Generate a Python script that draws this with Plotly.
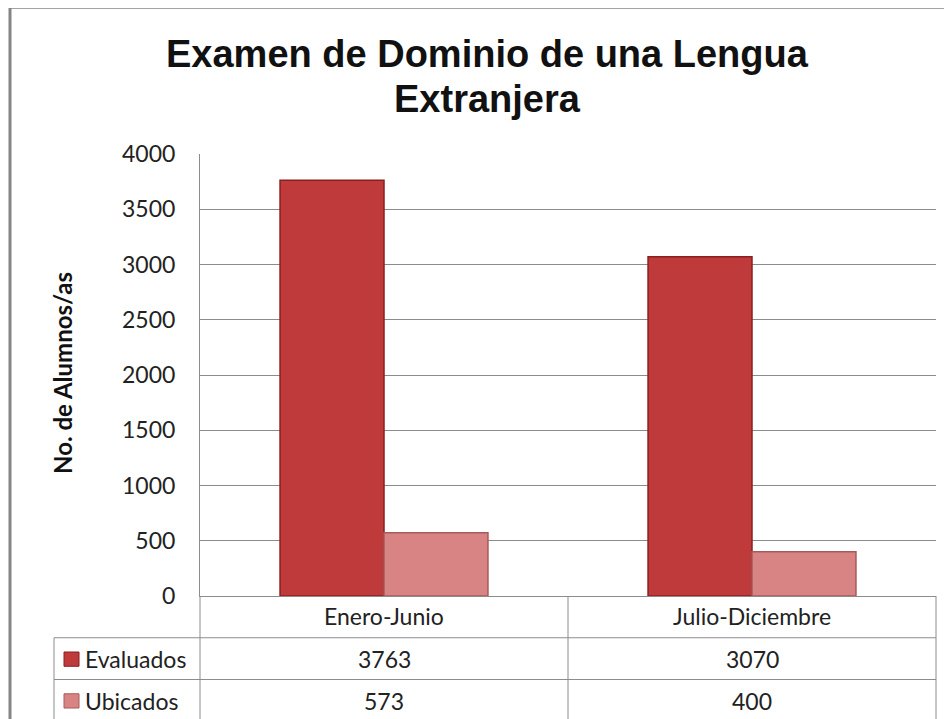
import plotly.graph_objects as go

# Examen de Dominio de una Lengua Extranjera - alumnos evaluados / ubicados
periodos = ["Enero-Junio", "Julio-Diciembre"]
evaluados = [3763, 3070]
ubicados = [573, 400]
series = ["Evaluados", "Ubicados"]
y_ticks = [0, 500, 1000, 1500, 2000, 2500, 3000, 3500, 4000]
titulo = ["Examen de Dominio de una Lengua", "Extranjera"]

col_eval = "#bf3a3a"
col_eval_line = "#8a1f1f"
col_ubic = "#d88484"
col_ubic_line = "#a85a5a"
grid = "#8c8c8c"
txt_font = "Lato"
txt_col = "#222"

fig = go.Figure()
fig.add_trace(go.Bar(name=series[0], x=periodos, y=evaluados,
                     marker=dict(color=col_eval, line=dict(color=col_eval_line, width=1.5))))
fig.add_trace(go.Bar(name=series[1], x=periodos, y=ubicados,
                     marker=dict(color=col_ubic, line=dict(color=col_ubic_line, width=1.5))))

# screen pixel -> paper helpers (plot area 200..936 x 154..588)
def px(v):
    return (v - 200) / 736.0

def py(v):
    return (588 - v) / 434.0

shapes = []
# outer chart border: only the left and top edges show in the reference
shapes.append(dict(type="path", xref="paper", yref="paper",
                   path="M {:.5f},{:.5f} L {:.5f},{:.5f} L {:.5f},{:.5f}".format(
                       px(10), py(730), px(10), py(10), px(960), py(10)),
                   line=dict(color="#858585", width=3)))

def hline(y, x0, x1):
    shapes.append(dict(type="line", xref="paper", yref="paper",
                       x0=px(x0), x1=px(x1), y0=py(y), y1=py(y),
                       line=dict(color=grid, width=1)))

def vline(x, y0, y1):
    shapes.append(dict(type="line", xref="paper", yref="paper",
                       x0=px(x), x1=px(x), y0=py(y0), y1=py(y1),
                       line=dict(color=grid, width=1)))

# data table grid
hline(629, 54, 936)
hline(670, 54, 936)
hline(711, 54, 936)
vline(54, 629, 711)
vline(200, 588, 711)
vline(568, 588, 711)
vline(936, 588, 711)

# legend keys in table
key_cols = [(col_eval, col_eval_line), (col_ubic, col_ubic_line)]
row_y = [650, 691]
for (c, lc), yy in zip(key_cols, row_y):
    shapes.append(dict(type="rect", xref="paper", yref="paper",
                       x0=px(64), x1=px(79), y0=py(yy - 7), y1=py(yy + 7),
                       fillcolor=c, line=dict(color=lc, width=1)))

tfont = dict(family=txt_font, size=23, color=txt_col)
annotations = []
for p in periodos:
    annotations.append(dict(x=p, xref="x", y=py(608), yref="paper", text=p,
                            xanchor="center", yanchor="middle", showarrow=False, font=tfont))
for name, vals, yy in zip(series, [evaluados, ubicados], row_y):
    annotations.append(dict(x=px(83), xref="paper", y=py(yy), yref="paper", text=name,
                            xanchor="left", yanchor="middle", showarrow=False, font=tfont))
    for p, v in zip(periodos, vals):
        annotations.append(dict(x=p, xref="x", y=py(yy), yref="paper", text=str(v),
                                xanchor="center", yanchor="middle", showarrow=False, font=tfont))

# y axis title
annotations.append(dict(x=px(63), xref="paper", y=py(369), yref="paper",
                        text="<b>No. de Alumnos/as</b>", textangle=-90, showarrow=False,
                        xanchor="center", yanchor="middle",
                        font=dict(family=txt_font, size=24, color="#111")))

# chart title, two lines
for line, yy in zip(titulo, [56, 100]):
    annotations.append(dict(x=px(487), xref="paper", y=py(yy), yref="paper",
                            text="<b>" + line + "</b>", showarrow=False,
                            xanchor="center", yanchor="middle",
                            font=dict(family="Liberation Sans", size=38, color="#111")))

fig.update_layout(
    width=944, height=711,
    margin=dict(l=192, r=16, t=146, b=123),
    paper_bgcolor="white", plot_bgcolor="white",
    barmode="group", bargap=0.435, bargroupgap=0,
    showlegend=False,
    xaxis=dict(showticklabels=False, showline=True, linecolor=grid, ticks="",
               showgrid=False, range=[-0.5, 1.5]),
    yaxis=dict(range=[0, 4000], tickvals=y_ticks, showgrid=True, gridcolor=grid,
               gridwidth=1, showline=True, linecolor=grid, ticks="",
               ticklabelstandoff=19, zeroline=False,
               tickfont=dict(family=txt_font, size=23, color=txt_col)),
    shapes=shapes, annotations=annotations,
)

fig.write_html("out.html")
